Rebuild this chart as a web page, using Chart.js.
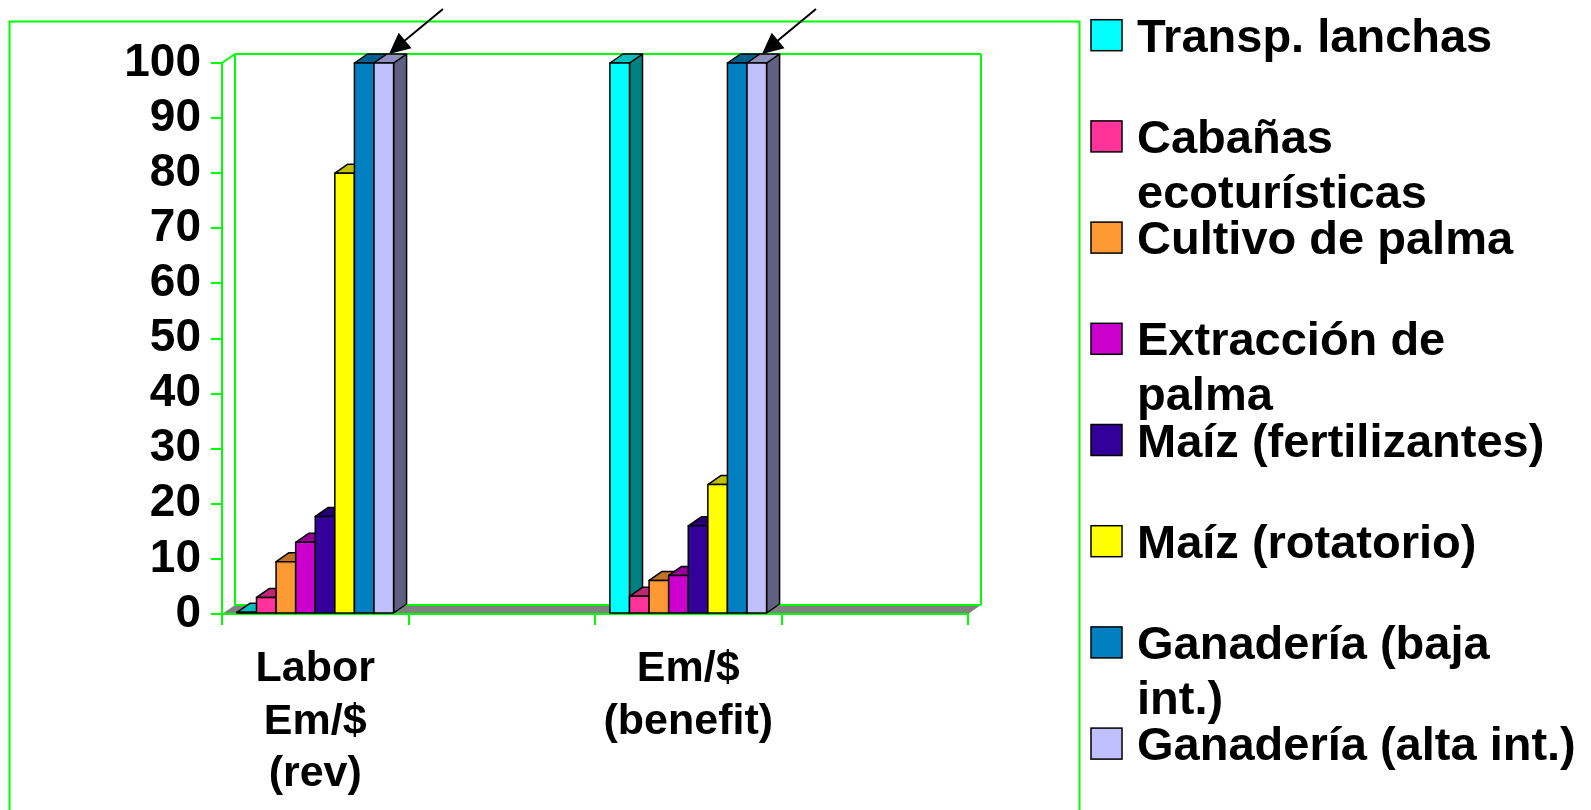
<!DOCTYPE html>
<html>
<head>
<meta charset="utf-8">
<script src="https://cdn.jsdelivr.net/npm/chart.js@4.4.0/dist/chart.umd.min.js"></script>
<style>
    html, body { margin: 0; padding: 0; background: #fff; overflow: hidden; }
    #wrap { position: relative; width: 1591px; height: 810px; }
</style>
</head>
<body>
<div id="wrap"><canvas id="barChart" width="1591" height="810"></canvas></div>
<script>
// Data (4 category slots, 2nd and 4th are empty)
const categories = [['Labor', 'Em/$', '(rev)'], '', ['Em/$', '(benefit)'], ''];

const seriesNames = [
    'Transp. lanchas',
    'Cabañas ecoturísticas',
    'Cultivo de palma',
    'Extracción de palma',
    'Maíz (fertilizantes)',
    'Maíz (rotatorio)',
    'Ganadería (baja int.)',
    'Ganadería (alta int.)'
];

const seriesColors = ['#00FFFF', '#FF3399', '#FF9933', '#CC00CC', '#330099', '#FFFF00', '#0080C0', '#C0C0FF'];

const transpLanchas   = [0.3, null, 100, null];
const cabanas         = [3, null, 3.2, null];
const cultivoPalma    = [9.5, null, 6.1, null];
const extraccionPalma = [13, null, 7, null];
const maizFert        = [17.7, null, 16, null];
const maizRot         = [80, null, 23.5, null];
const ganaderiaBaja   = [100, null, 100, null];
const ganaderiaAlta   = [100, null, 100, null];

const seriesValues = [transpLanchas, cabanas, cultivoPalma, extraccionPalma, maizFert, maizRot, ganaderiaBaja, ganaderiaAlta];

const yMin = 0, yMax = 100, yStep = 10;

// Styling
const FONT = "'Liberation Sans', Arial, sans-serif";
const GREEN = '#00FF00';
const DX = 13, DY = -9;   // 3D depth offset

function shade(hex, f) {
    const n = parseInt(hex.slice(1), 16);
    const r = Math.round(((n >> 16) & 255) * f);
    const g = Math.round(((n >> 8) & 255) * f);
    const b = Math.round((n & 255) * f);
    return `rgb(${r},${g},${b})`;
}

function poly(ctx, pts, fill, stroke, lw) {
    ctx.beginPath();
    ctx.moveTo(pts[0][0], pts[0][1]);
    for (let i = 1; i < pts.length; i++) ctx.lineTo(pts[i][0], pts[i][1]);
    ctx.closePath();
    if (fill) { ctx.fillStyle = fill; ctx.fill(); }
    if (stroke) { ctx.strokeStyle = stroke; ctx.lineWidth = lw || 1; ctx.stroke(); }
}

function line(ctx, x1, y1, x2, y2, color, lw) {
    ctx.beginPath();
    ctx.moveTo(x1, y1);
    ctx.lineTo(x2, y2);
    ctx.strokeStyle = color;
    ctx.lineWidth = lw;
    ctx.stroke();
}

const threeDPlugin = {
    id: 'threeD',
    beforeDraw(chart) {
        const ctx = chart.ctx;
        ctx.save();
        // outer frame
        ctx.strokeStyle = GREEN;
        ctx.lineWidth = 2;
        ctx.strokeRect(9.5, 21.5, 1070, 820);
        ctx.restore();
    },
    beforeDatasetsDraw(chart) {
        const ctx = chart.ctx;
        const a = chart.chartArea;
        ctx.save();

        // floor
        poly(ctx, [[a.left, a.bottom], [a.right, a.bottom], [a.right + DX, a.bottom + DY], [a.left + DX, a.bottom + DY]], '#808080');
        // back wall and side wall
        line(ctx, a.left + DX, a.top + DY, a.right + DX, a.top + DY, GREEN, 2);
        line(ctx, a.right + DX, a.top + DY, a.right + DX, a.bottom + DY, GREEN, 2);
        line(ctx, a.left + DX, a.top + DY, a.left + DX, a.bottom + DY, GREEN, 2);
        line(ctx, a.left + DX, a.bottom + DY, a.right + DX, a.bottom + DY, GREEN, 2);
        line(ctx, a.left, a.top, a.left + DX, a.top + DY, GREEN, 2);
        line(ctx, a.left, a.bottom, a.right, a.bottom, GREEN, 2);
        line(ctx, a.left, a.top, a.left, a.bottom, GREEN, 2);

        // bars, left to right inside each category
        ctx.lineJoin = 'round';
        categories.forEach((c, j) => {
            seriesValues.forEach((vals, i) => {
                if (vals[j] === null) return;
                const el = chart.getDatasetMeta(i).data[j];
                const p = el.getProps(['x', 'y', 'base', 'width'], true);
                const l = p.x - p.width / 2, r = p.x + p.width / 2;
                const t = p.y, b = p.base;
                const col = seriesColors[i];
                poly(ctx, [[r, t], [r + DX, t + DY], [r + DX, b + DY], [r, b]], shade(col, 0.5), '#000', 1.5);
                poly(ctx, [[l, t], [l + DX, t + DY], [r + DX, t + DY], [r, t]], shade(col, 0.75), '#000', 1.5);
                poly(ctx, [[l, t], [r, t], [r, b], [l, b]], col, '#000', 1.5);
            });
        });
        ctx.restore();
        return false;
    },
    afterDraw(chart) {
        const ctx = chart.ctx;
        ctx.save();

        // arrows pointing to the "Ganadería (alta int.)" bars
        const meta = chart.getDatasetMeta(seriesValues.length - 1);
        [0, 2].forEach(j => {
            const p = meta.data[j].getProps(['x', 'y', 'width'], true);
            const tx = p.x - p.width / 2 + DX + 2, ty = p.y + DY;
            const sx = tx + 54, sy = ty - 45;
            line(ctx, sx, sy, tx + 8, ty - 7, '#000', 2);
            const ang = Math.atan2(ty - sy, tx - sx);
            const len = 21, hw = 10;
            const bx = tx - len * Math.cos(ang), by = ty - len * Math.sin(ang);
            poly(ctx, [[tx, ty],
                [bx + hw * Math.sin(ang), by - hw * Math.cos(ang)],
                [bx - hw * Math.sin(ang), by + hw * Math.cos(ang)]], '#000');
        });

        // legend
        const fs = 47, maxW = 446;
        ctx.font = `bold ${fs}px ${FONT}`;
        ctx.textBaseline = 'alphabetic';
        ctx.textAlign = 'left';
        seriesNames.forEach((name, i) => {
            const words = name.split(' ');
            const lines = [];
            let cur = '';
            words.forEach(w => {
                const test = cur ? cur + ' ' + w : w;
                if (cur && ctx.measureText(test).width > maxW) {
                    lines.push(cur);
                    cur = w;
                } else {
                    cur = test;
                }
            });
            lines.push(cur);
            const base = 51.7 + i * 101.2;
            ctx.fillStyle = seriesColors[i];
            ctx.fillRect(1091, base - 32, 31, 31);
            ctx.strokeStyle = '#000';
            ctx.lineWidth = 1.5;
            ctx.strokeRect(1091, base - 32, 31, 31);
            ctx.fillStyle = '#000';
            lines.forEach((ln, k) => ctx.fillText(ln, 1137, base + k * 55));
        });
        ctx.restore();
    }
};

document.addEventListener('DOMContentLoaded', () => {
    const ctx = document.getElementById('barChart').getContext('2d');
    window.barChart = new Chart(ctx, {
        type: 'bar',
        data: {
            labels: categories,
            datasets: seriesNames.map((name, i) => ({
                label: name,
                data: seriesValues[i],
                backgroundColor: seriesColors[i],
                borderColor: '#000',
                borderWidth: 1.5,
                categoryPercentage: 0.84,
                barPercentage: 1.0
            }))
        },
        options: {
            responsive: false,
            animation: false,
            layout: {
                padding: { left: 0, top: 63, right: 623, bottom: 0 }
            },
            plugins: {
                legend: { display: false },
                tooltip: { enabled: false },
                title: { display: false }
            },
            scales: {
                x: {
                    afterFit: scale => { scale.height = 196; },
                    grid: {
                        offset: true,
                        drawOnChartArea: false,
                        drawTicks: true,
                        tickLength: 11,
                        color: GREEN,
                        lineWidth: 2
                    },
                    border: { color: GREEN, width: 2 },
                    ticks: {
                        color: '#000',
                        autoSkip: false,
                        maxRotation: 0,
                        padding: 18,
                        font: { family: FONT, size: 43, weight: 'bold', lineHeight: 1.22 }
                    }
                },
                y: {
                    min: yMin,
                    max: yMax,
                    afterFit: scale => { scale.width = 222; },
                    grid: {
                        drawOnChartArea: false,
                        drawTicks: true,
                        tickLength: 11,
                        color: GREEN,
                        lineWidth: 2
                    },
                    border: { color: GREEN, width: 2 },
                    ticks: {
                        stepSize: yStep,
                        autoSkip: false,
                        color: '#000',
                        padding: 10,
                        font: { family: FONT, size: 46, weight: 'bold' }
                    }
                }
            }
        },
        plugins: [threeDPlugin]
    });
});
</script>
</body>
</html>
